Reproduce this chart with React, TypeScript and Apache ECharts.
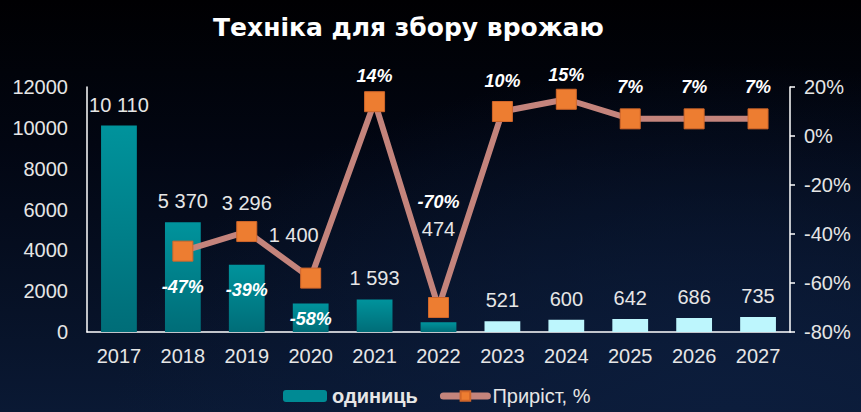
import React, { useEffect, useRef } from "react";
import * as echarts from "echarts";

const years = ["2017", "2018", "2019", "2020", "2021", "2022", "2023", "2024", "2025", "2026", "2027"];
const units = [10110, 5370, 3296, 1400, 1593, 474, 521, 600, 642, 686, 735];
const growth: (number | null)[] = [null, -47, -39, -58, 14, -70, 10, 15, 7, 7, 7];
const forecastFrom = "2023";
const titleText = "Техніка для збору врожаю";
const barName = "одиниць";
const lineName = "Приріст, %";

const fmtThousands = (v: number) => String(v).replace(/\B(?=(\d{3})+(?!\d))/g, " ");

export default function App() {
  const ref = useRef<HTMLDivElement>(null);
  useEffect(() => {
    if (!ref.current) return;
    const chart = echarts.init(ref.current, null, { renderer: "svg" });
    const font = "'Liberation Sans', Arial, sans-serif";
    const textColor = "#e6e6e6";
    const fIdx = years.indexOf(forecastFrom);

    // label placement tweaks (style only)
    const barLabelOffset: Record<string, [number, number]> = {
      "2019": [0, -41],
      "2020": [-17, -47],
      "2022": [0, -72],
    };
    const lineLabelPlace: Record<string, [string, number]> = {
      "2018": ["bottom", 16],
      "2019": ["bottom", 39],
      "2020": ["bottom", 21],
      "2021": ["top", 6],
      "2022": ["top", 86],
      "2023": ["top", 11],
      "2024": ["top", 5],
      "2025": ["top", 12],
      "2026": ["top", 12],
      "2027": ["top", 12],
    };

    const barData = units.map((v, i) => ({
      value: v,
      itemStyle: {
        color:
          i < fIdx
            ? new echarts.graphic.LinearGradient(0, 0, 0, 1, [
                { offset: 0, color: "#00939c" },
                { offset: 1, color: "#006d78" },
              ])
            : "#bdf6fd",
      },
      label: { offset: barLabelOffset[years[i]] || [0, 0] },
    }));

    const lineData = growth.map((v, i) => {
      if (v === null) return "-";
      const p = lineLabelPlace[years[i]] || ["top", 10];
      return { value: v, label: { position: p[0], distance: p[1] } };
    });

    chart.setOption({
      animation: false,
      grid: { left: 87, right: 71, top: 87, bottom: 80 },
      graphic: [
        {
          type: "text",
          left: 213,
          top: 15,
          style: {
            text: titleText,
            fill: "#ffffff",
            font: "bold 25px 'DejaVu Sans', sans-serif",
          },
        },
      ],
      legend: {
        left: 283,
        top: 385,
        padding: 0,
        itemWidth: 44,
        itemHeight: 12,
        itemGap: 22,
        textStyle: { color: textColor, fontSize: 20, fontFamily: font, lineHeight: 22 },
        data: [
          { name: barName, textStyle: { fontWeight: "bold" } },
          { name: lineName, lineStyle: { width: 7, cap: "round" } },
        ],
      },
      xAxis: {
        type: "category",
        data: years,
        axisLine: { show: true, lineStyle: { color: "#ffffff", width: 1.5 } },
        axisTick: { show: false },
        axisLabel: { color: textColor, fontSize: 20, fontFamily: font, margin: 14 },
      },
      yAxis: [
        {
          type: "value",
          min: 0,
          max: 12000,
          interval: 2000,
          axisLine: { show: true, lineStyle: { color: "#ffffff", width: 1.5 } },
          axisTick: { show: false },
          splitLine: { show: false },
          axisLabel: {
            color: textColor,
            fontSize: 20,
            fontFamily: font,
            margin: 19,
            formatter: (v: number) => String(v),
          },
        },
        {
          type: "value",
          min: -80,
          max: 20,
          interval: 20,
          position: "right",
          axisLine: { show: true, lineStyle: { color: "#ffffff", width: 1.5 } },
          axisTick: { show: true, length: 5, lineStyle: { color: "#ffffff", width: 1.5 } },
          splitLine: { show: false },
          axisLabel: {
            color: textColor,
            fontSize: 20,
            fontFamily: font,
            margin: 14,
            formatter: "{value}%",
          },
        },
      ],
      series: [
        {
          name: barName,
          type: "bar",
          data: barData,
          barWidth: "56%",
          itemStyle: { color: "#008a94" },
          label: {
            show: true,
            position: "top",
            distance: 11,
            color: textColor,
            fontSize: 20,
            fontFamily: font,
            formatter: (p: any) => fmtThousands(p.value),
          },
        },
        {
          name: lineName,
          type: "line",
          yAxisIndex: 1,
          data: lineData,
          symbol: "rect",
          symbolSize: 20,
          lineStyle: { color: "#c4847c", width: 6 },
          itemStyle: { color: "#ed7d31", borderColor: "#d0662a", borderWidth: 1 },
          z: 5,
          label: {
            show: true,
            color: "#ffffff",
            fontSize: 18,
            fontWeight: "bold",
            fontStyle: "italic",
            fontFamily: font,
            formatter: (p: any) => p.value + "%",
          },
        },
      ],
    });
    return () => chart.dispose();
  }, []);
  return (
    <div
      ref={ref}
      style={{
        position: "fixed",
        left: 0,
        top: 0,
        width: 861,
        height: 412,
        background:
          "radial-gradient(ellipse at 85% 100%, #0c1d3c 0%, rgba(10,26,54,0) 60%), linear-gradient(180deg, #000002 0%, #020612 35%, #0a1934 100%)",
      }}
    />
  );
}
